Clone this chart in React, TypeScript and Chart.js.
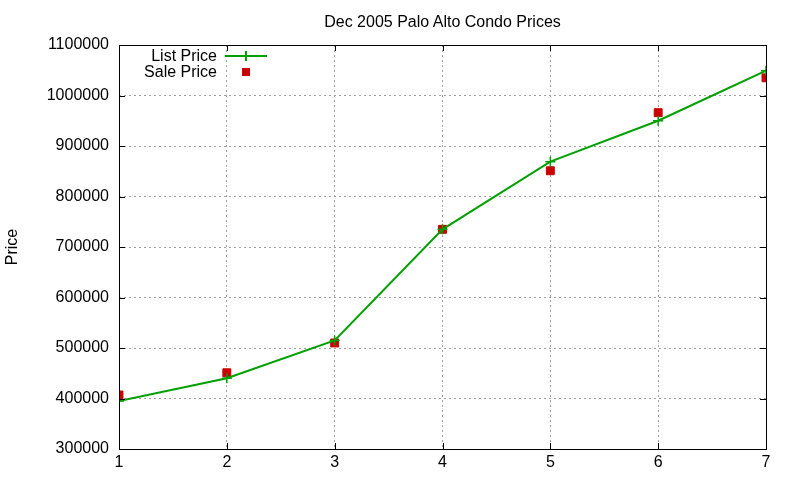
import { useRef, useEffect } from 'react'
import { Chart, registerables } from 'chart.js'
import type { Plugin } from 'chart.js'

Chart.register(...registerables)

const CATEGORIES = [1, 2, 3, 4, 5, 6, 7]
const LIST_PRICE = [395000, 440000, 515000, 735000, 869000, 950000, 1049000]
const SALE_PRICE = [407000, 451000, 510000, 735000, 851000, 966000, 1035000]
const Y_TICKS = [300000, 400000, 500000, 600000, 700000, 800000, 900000, 1000000, 1100000]

const TITLE = 'Dec 2005 Palo Alto Condo Prices'
const FONT = "'Liberation Sans', Arial, sans-serif"
const GREEN = '#00a000'
const RED = '#cc0000'

// gnuplot-style frame: full border with small inward ticks on every side
const framePlugin: Plugin<'line'> = {
  id: 'frame',
  afterDraw(chart) {
    const { ctx, chartArea: a, scales } = chart
    const tick = 6
    ctx.save()
    ctx.strokeStyle = '#000'
    ctx.lineWidth = 1
    ctx.beginPath()
    for (const t of scales.y.ticks) {
      const y = Math.round(scales.y.getPixelForValue(t.value)) + 0.5
      ctx.moveTo(a.left, y); ctx.lineTo(a.left + tick, y)
      ctx.moveTo(a.right, y); ctx.lineTo(a.right - tick, y)
    }
    for (const t of scales.x.ticks) {
      const x = Math.round(scales.x.getPixelForValue(t.value)) + 0.5
      ctx.moveTo(x, a.bottom); ctx.lineTo(x, a.bottom - tick)
      ctx.moveTo(x, a.top); ctx.lineTo(x, a.top + tick)
    }
    ctx.stroke()
    ctx.strokeRect(Math.round(a.left) + 0.5, Math.round(a.top) + 0.5,
      Math.round(a.right - a.left), Math.round(a.bottom - a.top))
    ctx.restore()
  },
}

export default function App() {
  const canvasRef = useRef<HTMLCanvasElement>(null)

  useEffect(() => {
    document.body.style.margin = '0'
    if (!canvasRef.current) return
    const chart = new Chart(canvasRef.current, {
      type: 'line',
      data: {
        datasets: [
          {
            label: 'List Price',
            data: CATEGORIES.map((x, i) => ({ x, y: LIST_PRICE[i] })),
            borderColor: GREEN,
            backgroundColor: GREEN,
            borderWidth: 2,
            pointStyle: 'cross',
            pointRadius: 5,
            pointBorderWidth: 1.5,
            tension: 0,
          },
          {
            label: 'Sale Price',
            data: CATEGORIES.map((x, i) => ({ x, y: SALE_PRICE[i] })),
            showLine: false,
            borderColor: RED,
            backgroundColor: RED,
            pointStyle: 'rect',
            pointRadius: 5.6,
            pointBorderWidth: 1,
          },
        ],
      },
      options: {
        responsive: false,
        animation: false,
        layout: { padding: { left: 0, right: 34, top: 45, bottom: 0 } },
        plugins: {
          legend: { display: false },
          tooltip: { enabled: false },
          title: { display: false },
        },
        scales: {
          x: {
            type: 'linear',
            min: 1,
            max: 7,
            afterFit: (axis) => { axis.height = 31 },
            afterBuildTicks: (axis) => { axis.ticks = CATEGORIES.map((v) => ({ value: v })) },
            ticks: {
              color: '#000',
              font: { family: FONT, size: 16 },
              padding: 4,
            },
            grid: {
              drawTicks: false,
              color: '#a0a0a0',
              lineWidth: 1,
            },
            border: { display: false, dash: [2, 3] },
          },
          y: {
            min: 300000,
            max: 1100000,
            afterFit: (axis) => { axis.width = 119 },
            afterBuildTicks: (axis) => { axis.ticks = Y_TICKS.map((v) => ({ value: v })) },
            ticks: {
              color: '#000',
              font: { family: FONT, size: 16 },
              padding: 10,
              callback: (v) => String(v),
            },
            grid: {
              drawTicks: false,
              color: '#a0a0a0',
              lineWidth: 1,
            },
            border: { display: false, dash: [2, 3] },
            title: {
              display: true,
              text: 'Price',
              color: '#000',
              font: { family: FONT, size: 16, lineHeight: 1.2 },
              padding: { top: 3, bottom: 0 },
            },
          },
        },
      },
      plugins: [framePlugin],
    })
    return () => chart.destroy()
  }, [])

  const row: React.CSSProperties = { display: 'flex', alignItems: 'center', height: 16 }
  const label: React.CSSProperties = { width: 217, textAlign: 'right' }
  const sample: React.CSSProperties = {
    position: 'relative', width: 42, height: 16, marginLeft: 8,
  }

  return (
    <div style={{ position: 'relative', width: 800, height: 480, fontFamily: FONT, fontSize: 16, color: '#000' }}>
      <canvas ref={canvasRef} width={800} height={480} style={{ display: 'block' }} />
      <div style={{ position: 'absolute', left: 119, width: 647, top: 12, lineHeight: '19px', textAlign: 'center' }}>
        {TITLE}
      </div>
      <div style={{ position: 'absolute', left: 0, top: 48, lineHeight: '16px' }}>
        <div style={row}>
          <span style={label}>List Price</span>
          <span style={sample}>
            <span style={{ position: 'absolute', left: 0, right: 0, top: 7, height: 2, background: GREEN }} />
            <span style={{ position: 'absolute', left: 20, width: 1.5, top: 3, height: 10, background: GREEN }} />
          </span>
        </div>
        <div style={row}>
          <span style={label}>Sale Price</span>
          <span style={sample}>
            <span style={{ position: 'absolute', left: 17, width: 8, top: 4, height: 8, background: RED }} />
          </span>
        </div>
      </div>
    </div>
  )
}
